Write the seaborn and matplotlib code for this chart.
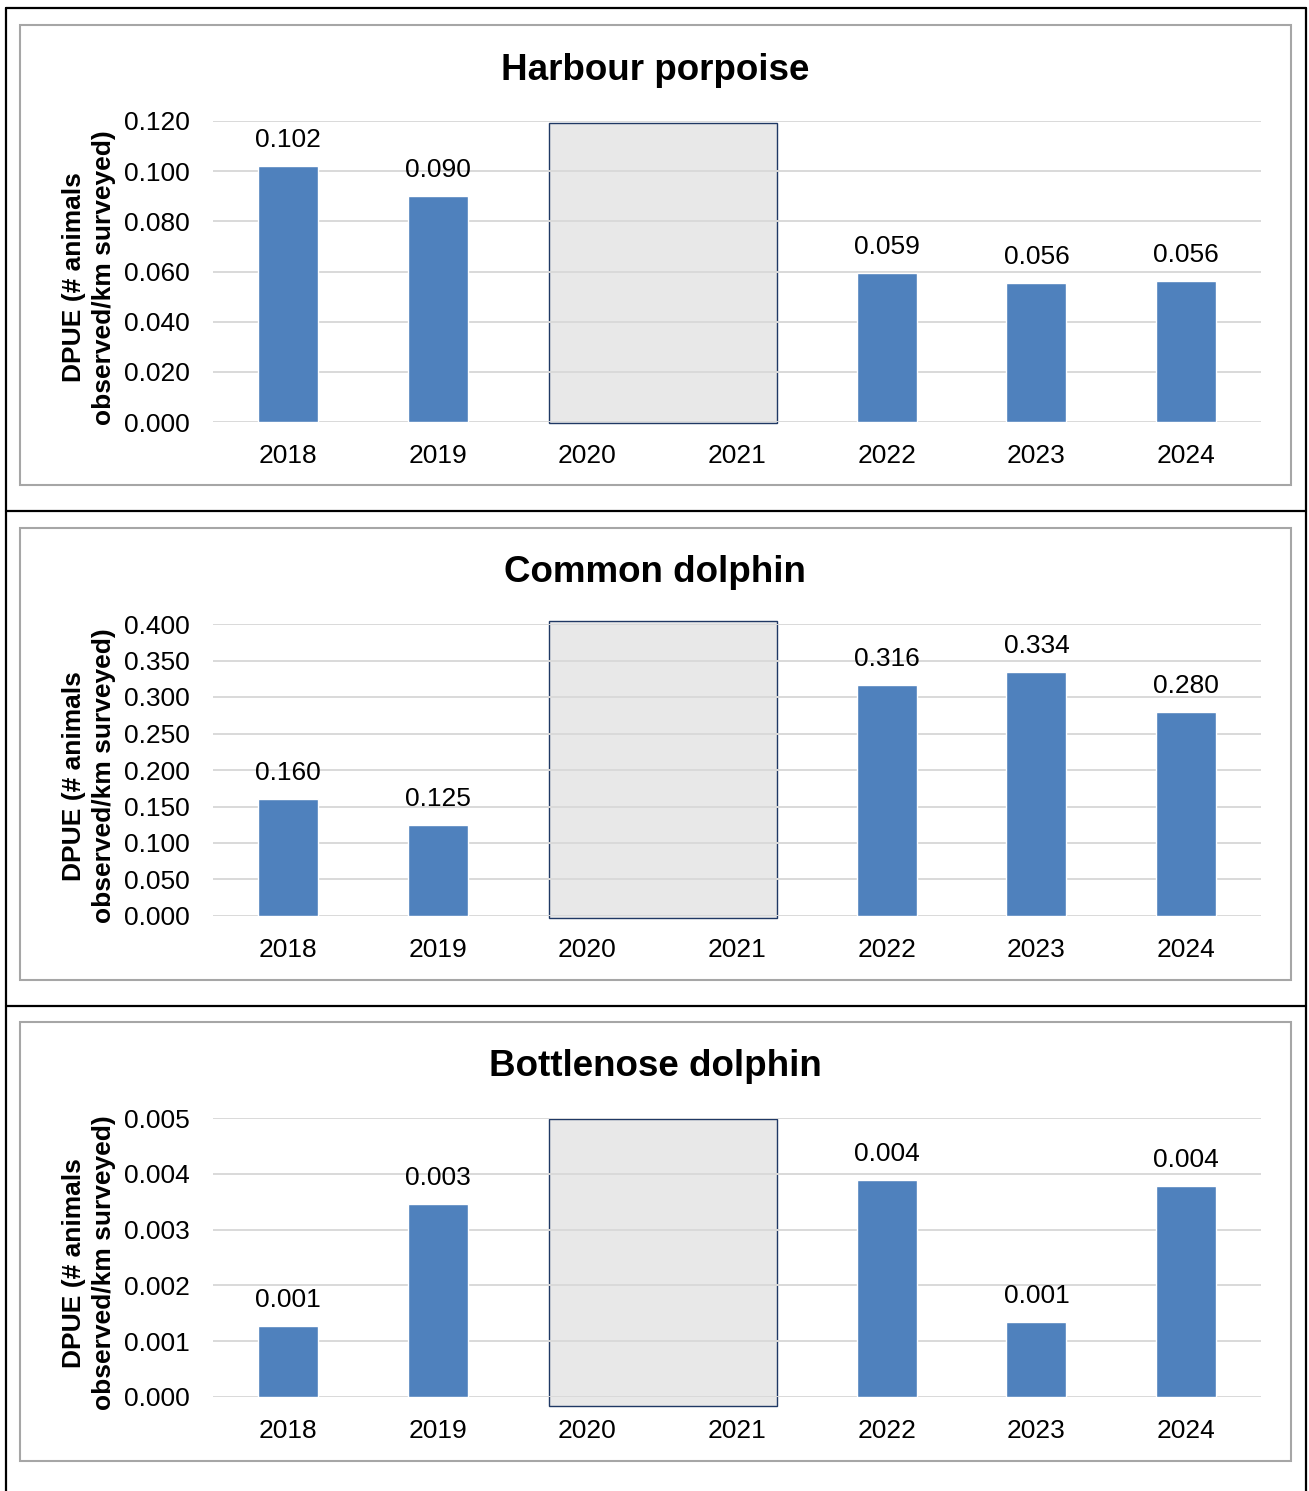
import numpy as np
import pandas as pd
import matplotlib
matplotlib.use("Agg")
import matplotlib.pyplot as plt
from matplotlib.patches import Rectangle
from matplotlib.lines import Line2D
import seaborn as sns

# ---- data -------------------------------------------------------------
years = ["2018", "2019", "2020", "2021", "2022", "2023", "2024"]
survey_years = ["2018", "2019", "2022", "2023", "2024"]
no_survey_years = ["2020", "2021"]

porpoise_dpue = [0.102, 0.090, 0.0594, 0.0556, 0.0563]
common_dpue = [0.160, 0.125, 0.316, 0.334, 0.280]
bottlenose_dpue = [0.00127, 0.00346, 0.00389, 0.00134, 0.00378]

titles = ["Harbour porpoise", "Common dolphin", "Bottlenose dolphin"]
y_ticks = [
    [0.000, 0.020, 0.040, 0.060, 0.080, 0.100, 0.120],
    [0.000, 0.050, 0.100, 0.150, 0.200, 0.250, 0.300, 0.350, 0.400],
    [0.000, 0.001, 0.002, 0.003, 0.004, 0.005],
]
y_label = "DPUE (# animals\nobserved/km surveyed)"

# ---- style ------------------------------------------------------------
sns.set_theme(style="white")
plt.rcParams["font.family"] = ["Liberation Sans", "DejaVu Sans"]
plt.rcParams["text.color"] = "black"
plt.rcParams["axes.labelcolor"] = "black"

W, H = 1309, 1491
fig = plt.figure(figsize=(W / 100, H / 100), dpi=100)
fig.patch.set_facecolor("white")

BAR = "#4F81BD"
GRID = "#D9D9D9"


def fx(px):
    return px / W


def fy(py):
    return 1 - py / H


# table rules around the three cells
for seg in [((6, 8), (1306, 8)), ((6, 511), (1306, 511)), ((6, 1006), (1306, 1006)),
            ((6, 8), (6, 1491)), ((1306, 8), (1306, 1491))]:
    (x0, y0), (x1, y1) = seg
    fig.add_artist(Line2D([fx(x0), fx(x1)], [fy(y0), fy(y1)], color="black",
                          lw=1.6, transform=fig.transFigure))

# chart frames (top, bottom) in pixels
frames = [(25, 485), (528, 980), (1022, 1461)]
for top, bot in frames:
    fig.add_artist(Rectangle((fx(20), fy(bot)), fx(1291) - fx(20), fy(top) - fy(bot),
                             transform=fig.transFigure, fill=False,
                             edgecolor="#A6A6A6", lw=1.5))

# plot areas: (top px, bottom px), title y px
areas = [(121, 422, 70), (624, 916, 573), (1118, 1397, 1067)]
series = [porpoise_dpue, common_dpue, bottlenose_dpue]
# vertical extent of the shaded block, as fractions of the axis range
shade_extent = [(-0.004, 0.993), (-0.006, 1.01), (-0.032, 0.998)]

for vals, ttl, ticks, (top, bot, ty), (s0, s1) in zip(series, titles, y_ticks, areas, shade_extent):
    ax = fig.add_axes([fx(213), fy(bot), fx(1261) - fx(213), fy(top) - fy(bot)])
    df = pd.DataFrame({"year": survey_years, "dpue": vals})
    sns.barplot(data=df, x="year", y="dpue", order=years, color=BAR,
                saturation=1, width=0.4, ax=ax, zorder=3)
    ax.set_ylim(ticks[0], ticks[-1])
    ax.set_yticks(ticks)
    ax.set_yticklabels([f"{t:.3f}" for t in ticks])
    ax.set_xlim(-0.5, len(years) - 0.5)
    ax.set_xlabel("")
    ax.set_ylabel(y_label, fontsize=19, fontweight="bold", linespacing=1.3)
    ax.yaxis.set_label_coords(-0.093, 0.48)
    ax.tick_params(axis="both", length=0, labelsize=19, colors="black")
    ax.tick_params(axis="y", pad=17)
    ax.tick_params(axis="x", pad=15.5)
    ax.set_axisbelow(True)
    ax.yaxis.grid(True, color=GRID, lw=1.4)
    for s in ax.spines.values():
        s.set_visible(False)
    ax.patch.set_alpha(0)

    # value labels from bar heights
    for p in ax.patches:
        h = p.get_height()
        if np.isfinite(h) and h > 0:
            ax.annotate(f"{h:.3f}", (p.get_x() + p.get_width() / 2, h),
                        xytext=(0, 10), textcoords="offset points",
                        ha="center", va="bottom", fontsize=19, color="black")

    # shaded block for the years without survey effort
    i0 = years.index(no_survey_years[0])
    i1 = years.index(no_survey_years[-1])
    span = ticks[-1] - ticks[0]
    rect = Rectangle((i0 - 0.255, s0 * span), (i1 - i0) + 0.52, (s1 - s0) * span,
                     facecolor="#E8E8E8", edgecolor="#1F3864", lw=1.0,
                     zorder=0.4, clip_on=False)
    ax.add_patch(rect)

    fig.text(fx(655), fy(ty), ttl, ha="center", va="center",
             fontsize=26.5, fontweight="bold", color="black")

fig.savefig("out.png", dpi=100, facecolor="white")
